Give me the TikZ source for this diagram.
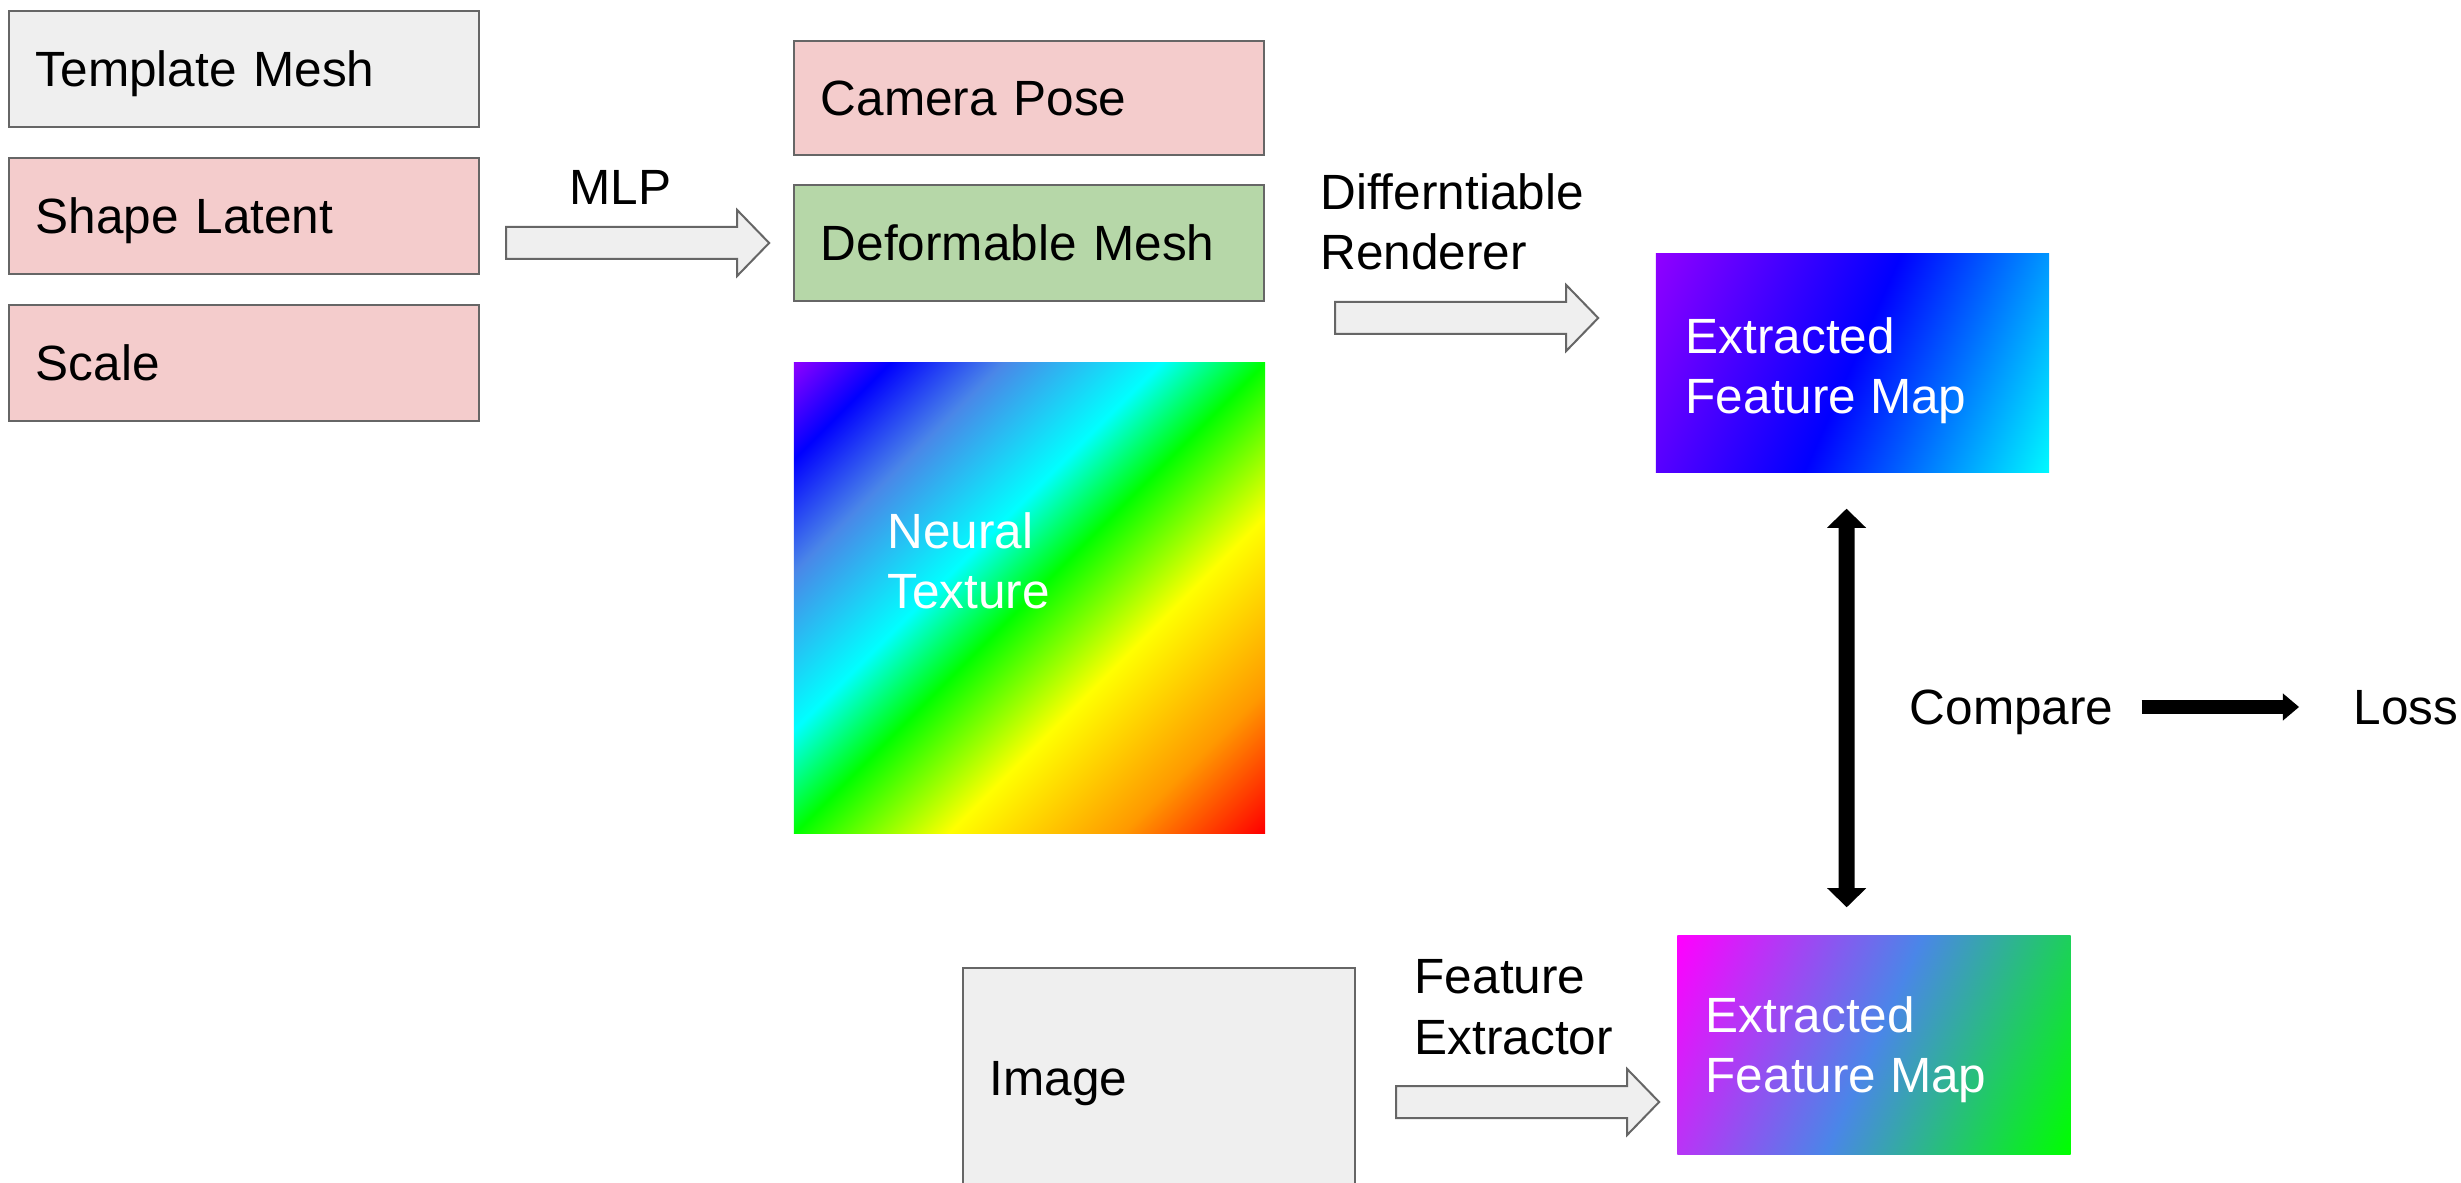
\documentclass[tikz,border=0pt]{standalone}
\usepackage{fontspec}
\setmainfont{Liberation Sans}
\usetikzlibrary{calc,arrows.meta}

% palette
\definecolor{edge}{HTML}{666666}
\definecolor{boxgray}{HTML}{EFEFEF}
\definecolor{boxpink}{HTML}{F4CCCC}
\definecolor{boxgreen}{HTML}{B6D7A8}
% rainbow of the neural texture
\definecolor{ntviolet}{HTML}{8A00FF}
\definecolor{ntblue}{HTML}{0000FF}
\definecolor{ntcorn}{HTML}{4A86E8}
\definecolor{ntcyan}{HTML}{00FFFF}
\definecolor{ntgreen}{HTML}{00FF00}
\definecolor{ntyellow}{HTML}{FFFF00}
\definecolor{ntorange}{HTML}{FF9900}
\definecolor{ntred}{HTML}{FF0000}
% feature map colours
\definecolor{fmviolet}{HTML}{8F00FF}
\definecolor{fmblue}{HTML}{0000FF}
\definecolor{fmcyan}{HTML}{00F8FF}
\definecolor{fmmagenta}{HTML}{FF00FF}
\definecolor{fmcorn}{HTML}{4A86E8}
\definecolor{fmgreen}{HTML}{00FF00}

% diagonal rainbow (used at -45 degrees on a square)
\pgfdeclarehorizontalshading{rainbowtex}{100bp}{%
  color(0bp)=(ntviolet); color(14.64bp)=(ntviolet);
  color(21.71bp)=(ntblue); color(30.2bp)=(ntcorn);
  color(42.2bp)=(ntcyan); color(50bp)=(ntgreen);
  color(61.66bp)=(ntyellow); color(74.75bp)=(ntorange);
  color(85.36bp)=(ntred); color(100bp)=(ntred)}
% feature maps (used at -24 degrees on a 393x218 box)
\pgfdeclarehorizontalshading{fmtop}{100bp}{%
  color(0bp)=(fmviolet); color(17.05bp)=(fmviolet);
  color(50bp)=(fmblue);
  color(82.95bp)=(fmcyan); color(100bp)=(fmcyan)}
\pgfdeclarehorizontalshading{fmbot}{100bp}{%
  color(0bp)=(fmmagenta); color(17.05bp)=(fmmagenta);
  color(50bp)=(fmcorn);
  color(82.95bp)=(fmgreen); color(100bp)=(fmgreen)}

\newcommand\dfont{\fontsize{14.08pt}{17.07pt}\selectfont}

\tikzset{
  pics/fatarrow/.style={code={
    \draw[fatstyle] (0,-16) -- (231,-16) -- (231,-33) -- (263,0)
      -- (231,33) -- (231,16) -- (0,16) -- cycle;}},
}

\begin{document}
\begin{tikzpicture}[x=0.01cm,y=-0.01cm,
  box/.style={draw=edge, line width=0.02cm, inner xsep=0.27cm, inner ysep=0pt,
    align=left, text width=4.16cm, text height=0.354cm, text depth=0pt,
    minimum height=1.16cm, font=\dfont},
  fmap/.style={shade, inner sep=0pt, minimum width=3.93cm, minimum height=2.18cm,
    shading angle=-24},
  ml/.style={inner sep=0pt, align=left, font=\dfont},
  word/.style={inner sep=0pt, font=\dfont, text height=0.354cm, text depth=0pt},
  fatstyle/.style={draw=edge, fill=boxgray, line width=0.02cm, line join=miter},
  dblarrow/.style={line width=0.16cm, black,
    {Triangle[width=0.39cm,length=0.19cm,line width=0pt]}-{Triangle[width=0.39cm,length=0.19cm,line width=0pt]}},
  lossarrow/.style={line width=0.14cm, black,
    -{Triangle[width=0.27cm,length=0.16cm,line width=0pt]}},
]
\useasboundingbox (0,0) rectangle (2461,1183);
\clip (0,0) rectangle (2461,1183);

% inputs of the shape model
\node[box, fill=boxgray] (tm) at (244,69) {Template Mesh};
\node[box, fill=boxpink] (sl) at (244,216) {Shape Latent};
\node[box, fill=boxpink] (sc) at (244,363) {Scale};

% renderer inputs
\node[box, fill=boxpink, minimum height=1.13cm] (cp) at (1029,98) {Camera Pose};
\node[box, fill=boxgreen] (dm) at (1029,243) {Deformable Mesh};
\node[shade, shading=rainbowtex, shading angle=-45, inner sep=0pt,
  minimum width=4.71cm, minimum height=4.70cm] (nt) at (1029.5,598) {};
% two-line labels are placed by the baseline of their last line
\node[ml, anchor=base west, text=white] (ntl) at (886.7,608.3) {Neural\\Texture};

% input image
\node[box, fill=boxgray, text width=3.38cm, minimum height=2.19cm] (img) at (1159,1077.5) {Image};

% feature maps
\node[fmap, shading=fmtop] (tfm) at (1852.5,363) {};
\node[ml, anchor=base west, text=white] (tfml) at (1685,413.7) {Extracted\\Feature Map};
\node[fmap, shading=fmbot] (bfm) at (1874,1045) {};
\node[ml, anchor=base west, text=white] (bfml) at (1705,1092.7) {Extracted\\Feature Map};

% labels of the block arrows
\node[ml, anchor=base west] (mlp) at (569,205) {MLP};
\node[ml, anchor=base west] (drl) at (1319.6,269.3) {Differntiable\\Renderer};
\node[ml, anchor=base west] (fel) at (1414,1054) {Feature\\Extractor};

% block arrows
\coordinate (a1) at ($(sl.east |- dm.west)+(26,0)$);
\coordinate (a2) at ($(tfm.west)+(-320,-45)$);
\coordinate (a3) at ($(img.east)+(40,24.5)$);
\pic at (a1) {fatarrow};
\pic at (a2) {fatarrow};
\pic at (a3) {fatarrow};

% comparison and loss
\node[word, anchor=west] (cmp) at (1909,707) {Compare};
\node[word, anchor=west] (loss) at (2353,707) {Loss};
\draw[dblarrow] ($(tfm.south)+(-6,36)$) -- ($(bfm.north)+(-27.3,-28)$);
\draw[lossarrow, shorten <=0.275cm, shorten >=0.54cm] (cmp.east) -- (loss.west);
\end{tikzpicture}
\end{document}
